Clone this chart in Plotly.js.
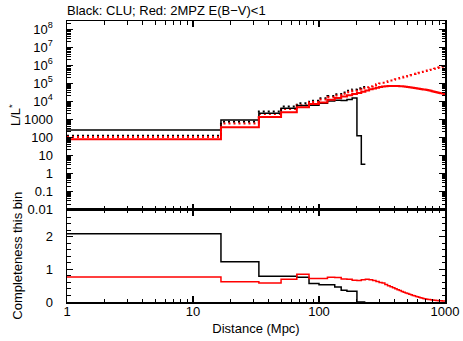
<!DOCTYPE html>
<html>
<head>
<meta charset="utf-8">
<script src="https://cdn.plot.ly/plotly-3.0.1.min.js"></script>
<style>html,body{margin:0;padding:0;background:#fff;}#chart{width:463px;height:341px;}</style>
</head>
<body>
<div id="chart"></div>
<script>
// Bin edges in distance (Mpc); first bin starts at 0 but the log axis begins at 1
const binEdges = [1, 16.67, 33.33, 50, 66.67, 83.33, 100, 116.67, 133.33, 150, 166.67, 183.33, 200, 216.67, 233.33,
  250, 266.67, 283.33, 300, 316.67, 333.33, 350, 366.67, 383.33, 400, 416.67, 433.33, 450, 466.67, 483.33,
  500, 516.67, 533.33, 550, 566.67, 583.33, 600, 616.67, 633.33, 650, 666.67, 683.33, 700, 716.67, 733.33,
  750, 766.67, 783.33, 800, 816.67, 833.33, 850, 866.67, 883.33, 900, 916.67, 933.33, 950, 966.67, 983.33, 1000];

// CLU (black): observed L/L*, expected L/L*, completeness per bin
const cluObserved = [255, 912, 2150, 4070, 5900, 6000, 7800, 10300, 11400, 11200, 12500, 15000, 123, 3.2];
const cluExpected = [122, 730, 2700, 5100, 7800, 10600, 14700, 19500, 24800, 31100, 37800, 45400, 53500, 62200];
const cluCompleteness = [2.1, 1.24, 0.79, 0.79, 0.76, 0.57, 0.53, 0.53, 0.46, 0.36, 0.33, 0.33, 0, 0];

// 2MPZ E(B-V)<1 (red)
const mpzObserved = [78, 360, 1350, 2500, 4700, 7100, 8700, 12000, 15000, 18200,
  21400, 25000, 29000, 34000, 40000, 46000, 51000, 57000, 62000, 66000,
  69000, 70500, 71500, 71500, 71000, 70000, 69000, 67500, 66000, 63500,
  61500, 59500, 57500, 56000, 54000, 52500, 51000, 49500, 48000, 46500,
  45500, 44500, 43500, 42500, 41000, 39500, 38000, 36500, 35300, 34000,
  33000, 31800, 30800, 29500, 28800, 28000, 27500, 27000, 26300, 25700];
const mpzExpected = [105, 590, 2000, 3700, 6000, 9000, 12500, 16500, 21000, 26400,
  32000, 38500, 45300, 52700, 60700, 69200, 78200, 87800, 98000, 108000,
  119000, 131000, 143000, 155000, 168000, 182000, 196000, 211000, 226000, 240000,
  256000, 273000, 290000, 306000, 324000, 342000, 360000, 379000, 398000, 419000,
  439000, 459000, 480000, 501000, 523000, 545000, 568000, 591000, 614000, 638000,
  662000, 686000, 711000, 736000, 761000, 787000, 813000, 839000, 866000, 893000];
const mpzCompleteness = [0.77, 0.62, 0.585, 0.70, 0.85, 0.72, 0.72, 0.76, 0.75, 0.71,
  0.70, 0.67, 0.66, 0.68, 0.70, 0.68, 0.66, 0.63, 0.60, 0.58,
  0.54, 0.50, 0.47, 0.44, 0.41, 0.38, 0.35, 0.32, 0.30, 0.28,
  0.26, 0.24, 0.22, 0.20, 0.19, 0.17, 0.16, 0.145, 0.13, 0.12,
  0.11, 0.10, 0.095, 0.088, 0.08, 0.075, 0.07, 0.065, 0.06, 0.056,
  0.052, 0.048, 0.045, 0.042, 0.039, 0.037, 0.035, 0.033, 0.031, 0.03];

// Axis tick labels
const xTickVals = [1, 10, 100, 1000];
const xTickText = ['1', '10', '100', '1000'];
const yTopTickVals = [0.01, 0.1, 1, 10, 100, 1000, 1e4, 1e5, 1e6, 1e7, 1e8];
const yTopTickText = ['0.01', '0.1', '1', '10', '100', '1000', '10<sup>4</sup>', '10<sup>5</sup>', '10<sup>6</sup>', '10<sup>7</sup>', '10<sup>8</sup>'];
const yBotTickVals = [0, 1, 2];
const yBotTickText = ['0', '1', '2'];

function stepXY(vals) {
  const x = binEdges.slice(0, vals.length + 1);
  const y = vals.concat([vals[vals.length - 1]]);
  return {x: x, y: y};
}
function logMinor(lo, hi) {
  const out = [];
  for (let e = lo; e < hi; e++) for (let m = 2; m <= 9; m++) out.push(m * Math.pow(10, e));
  return out;
}

function stepTrace(vals, color, width, dash, xa, ya) {
  const s = stepXY(vals);
  return {x: s.x, y: s.y, type: 'scatter', mode: 'lines', line: {shape: 'hv', color: color, width: width, dash: dash},
          xaxis: xa, yaxis: ya, hoverinfo: 'skip'};
}

const dots = '2px,3px';
const traces = [
  stepTrace(cluExpected, 'black', 2, dots, 'x2', 'y'),
  stepTrace(mpzExpected, 'red', 2, dots, 'x2', 'y'),
  stepTrace(cluObserved, 'black', 1.5, 'solid', 'x2', 'y'),
  stepTrace(mpzObserved, 'red', 2, 'solid', 'x2', 'y'),
  stepTrace(cluCompleteness, 'black', 1.5, 'solid', 'x', 'y2'),
  stepTrace(mpzCompleteness, 'red', 1.5, 'solid', 'x', 'y2')
];

const xMinor = logMinor(0, 3);
const baseAx = {showline: true, linecolor: 'black', linewidth: 1.5, mirror: 'allticks', ticks: 'inside',
  tickcolor: 'black', tickwidth: 1.2, showgrid: false, zeroline: false};

const layout = {
  width: 463, height: 341,
  margin: {l: 67, r: 18, t: 21, b: 39, pad: 0},
  paper_bgcolor: 'white', plot_bgcolor: 'white',
  showlegend: false,
  font: {family: '"Liberation Sans", Arial, Helvetica, sans-serif', size: 12, color: 'black'},
  title: {text: 'Black: CLU; Red: 2MPZ E(B\u2212V)<1', xref: 'paper', x: 0, xanchor: 'left',
          yref: 'container', y: 0.968, yanchor: 'middle', font: {size: 13, color: 'black'}},
  xaxis: Object.assign({}, baseAx, {type: 'log', range: [0, 3], anchor: 'y2', domain: [0, 1],
    tickmode: 'array', tickvals: xTickVals, ticktext: xTickText, ticklen: 6, ticklabelstandoff: -3,
    minor: {ticks: 'inside', ticklen: 3.5, tickwidth: 1, tickcolor: 'black', tickmode: 'array', tickvals: xMinor, showgrid: false},
    tickfont: {size: 13},
    title: {text: 'Distance (Mpc)', font: {size: 13}, standoff: 6}}),
  xaxis2: Object.assign({}, baseAx, {type: 'log', range: [0, 3], anchor: 'y', matches: 'x', domain: [0, 1],
    tickmode: 'array', tickvals: xTickVals, ticktext: xTickText, showticklabels: false, ticklen: 6,
    minor: {ticks: 'inside', ticklen: 3.5, tickwidth: 1, tickcolor: 'black', tickmode: 'array', tickvals: xMinor, showgrid: false}}),
  yaxis: Object.assign({}, baseAx, {type: 'log', range: [-2, 8.45], domain: [0.329, 1], anchor: 'x2',
    tickmode: 'array', tickvals: yTopTickVals, ticktext: yTopTickText, ticklen: 6, ticklabelstandoff: 10,
    minor: {ticks: 'inside', ticklen: 3.5, tickwidth: 1, tickcolor: 'black', tickmode: 'array', tickvals: logMinor(-2, 9), showgrid: false},
    tickfont: {size: 13},
    title: {text: 'L/L<sup>*</sup>', font: {size: 13}, standoff: 0}}),
  yaxis2: Object.assign({}, baseAx, {range: [0, 2.84], domain: [0, 0.329], anchor: 'x',
    tickmode: 'array', tickvals: yBotTickVals, ticktext: yBotTickText, ticklen: 6, ticklabelstandoff: 10,
    minor: {ticks: 'inside', ticklen: 3.5, tickwidth: 1, tickcolor: 'black', dtick: 0.2, tick0: 0, showgrid: false},
    tickfont: {size: 13},
    title: {text: 'Completeness this bin', font: {size: 13}, standoff: 20}})
};

Plotly.newPlot('chart', traces, layout, {staticPlot: true, displayModeBar: false});
</script>
</body>
</html>
